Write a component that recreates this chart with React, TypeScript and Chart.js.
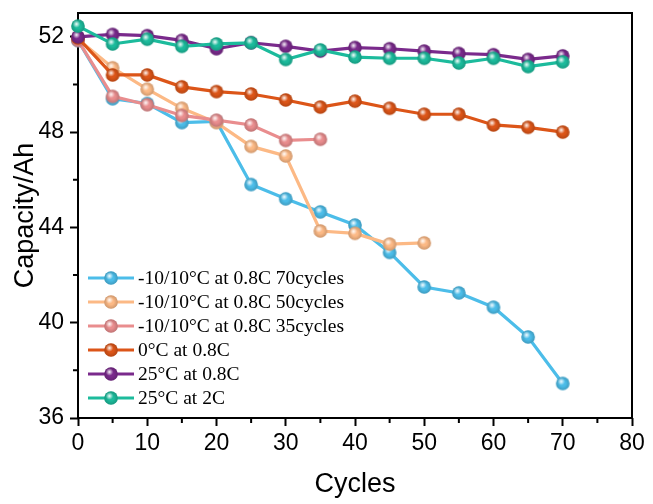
import { useEffect, useRef } from "react";
import { Chart, registerables } from "chart.js";

Chart.register(...registerables);

const cycles70 = [0, 5, 10, 15, 20, 25, 30, 35, 40, 45, 50, 55, 60, 65, 70];
const cycles50 = [0, 5, 10, 15, 20, 25, 30, 35, 40, 45, 50];
const cycles35 = [0, 5, 10, 15, 20, 25, 30, 35];

const low70 = [51.85, 49.4, 49.2, 48.4, 48.45, 45.8, 45.2, 44.65, 44.1, 42.95, 41.5, 41.25, 40.65, 39.4, 37.45];
const low50 = [51.9, 50.7, 49.8, 49.0, 48.4, 47.4, 47.0, 43.85, 43.75, 43.3, 43.35];
const low35 = [51.85, 49.5, 49.15, 48.7, 48.5, 48.3, 47.65, 47.7];
const zeroC = [51.95, 50.4, 50.4, 49.9, 49.7, 49.6, 49.35, 49.05, 49.3, 49.0, 48.75, 48.75, 48.3, 48.2, 48.0];
const room08 = [52.0, 52.1, 52.05, 51.85, 51.5, 51.75, 51.6, 51.4, 51.55, 51.5, 51.4, 51.3, 51.25, 51.05, 51.2];
const room2 = [52.45, 51.7, 51.9, 51.6, 51.7, 51.75, 51.05, 51.45, 51.15, 51.1, 51.1, 50.9, 51.1, 50.75, 50.95];

const seriesNames = [
  "-10/10°C at 0.8C 70cycles",
  "-10/10°C at 0.8C 50cycles",
  "-10/10°C at 0.8C 35cycles",
  "0°C at 0.8C",
  "25°C at 0.8C",
  "25°C at 2C",
];
const seriesColors = ["#4cbde9", "#fcb985", "#e98d8e", "#dc5518", "#7a2a8c", "#1cbb9c"];
const seriesX = [cycles70, cycles50, cycles35, cycles70, cycles70, cycles70];
const seriesY = [low70, low50, low35, zeroC, room08, room2];

const xMinorTicks = [5, 15, 25, 35, 45, 55, 65, 75];
const yMinorTicks = [38, 42, 46, 50];

// shaded ball marker like the Origin "sphere" symbol
function makeBall(color: string, r = 6.8) {
  const size = Math.ceil(r * 2 + 2);
  const c = document.createElement("canvas");
  c.width = size;
  c.height = size;
  const g = c.getContext("2d")!;
  const cx = size / 2;
  const cy = size / 2;
  g.beginPath();
  g.arc(cx, cy, r, 0, Math.PI * 2);
  g.fillStyle = color;
  g.fill();
  const shade = g.createRadialGradient(cx, cy, r * 0.4, cx, cy, r);
  shade.addColorStop(0, "rgba(0,0,0,0)");
  shade.addColorStop(1, "rgba(0,0,0,0.18)");
  g.fillStyle = shade;
  g.fill();
  const hi = g.createRadialGradient(cx - 1.5, cy - 2, 0, cx - 1.5, cy - 2, r * 0.55);
  hi.addColorStop(0, "rgba(255,255,255,0.95)");
  hi.addColorStop(1, "rgba(255,255,255,0)");
  g.fillStyle = hi;
  g.fill();
  return c;
}

const framePlugin = {
  id: "frame",
  beforeDatasetsDraw(chart: any) {
    const { ctx, chartArea: a, scales } = chart;
    ctx.save();
    ctx.strokeStyle = "#000";
    ctx.lineWidth = 2;
    ctx.strokeRect(a.left, a.top, a.right - a.left, a.bottom - a.top);
    ctx.beginPath();
    for (const v of xMinorTicks) {
      const px = scales.x.getPixelForValue(v);
      ctx.moveTo(px, a.bottom);
      ctx.lineTo(px, a.bottom + 5);
    }
    for (const v of yMinorTicks) {
      const py = scales.y.getPixelForValue(v);
      ctx.moveTo(a.left, py);
      ctx.lineTo(a.left - 5, py);
    }
    ctx.stroke();
    ctx.restore();
  },
  afterDatasetsDraw(chart: any) {
    const { ctx, chartArea: a } = chart;
    const sets = chart.data.datasets;
    ctx.save();
    ctx.font = "19.5px 'Liberation Serif', 'Times New Roman', serif";
    ctx.textBaseline = "middle";
    ctx.textAlign = "left";
    sets.forEach((ds: any, i: number) => {
      const y = a.bottom - 20 - (sets.length - 1 - i) * 24;
      const x0 = a.left + 10;
      ctx.strokeStyle = ds.borderColor;
      ctx.lineWidth = 3;
      ctx.beginPath();
      ctx.moveTo(x0, y);
      ctx.lineTo(x0 + 46, y);
      ctx.stroke();
      const img = ds.pointStyle as HTMLCanvasElement;
      ctx.drawImage(img, x0 + 23 - img.width / 2, y - img.height / 2);
      ctx.fillStyle = "#000";
      ctx.fillText(ds.label, x0 + 50, y + 1);
    });
    ctx.restore();
  },
};

export default function App() {
  const canvasRef = useRef<HTMLCanvasElement>(null);
  const chartRef = useRef<Chart | null>(null);

  useEffect(() => {
    document.body.style.margin = "0";
    if (!canvasRef.current) return;
    if (chartRef.current) chartRef.current.destroy();

    const datasets = seriesNames.map((name, i) => ({
      label: name,
      data: seriesX[i].map((x, j) => ({ x, y: seriesY[i][j] })),
      borderColor: seriesColors[i],
      backgroundColor: seriesColors[i],
      borderWidth: 3.2,
      pointStyle: makeBall(seriesColors[i]),
      pointRadius: 6,
      tension: 0,
      clip: false as const,
      order: seriesNames.length - i,
    }));

    const tickFont = { family: "'Liberation Sans', Arial, sans-serif", size: 23 };
    const titleFont = { family: "'Liberation Sans', Arial, sans-serif", size: 27 };

    chartRef.current = new Chart(canvasRef.current, {
      type: "line",
      data: { datasets },
      options: {
        responsive: false,
        animation: false,
        layout: { padding: { top: 13, right: 21, left: 0, bottom: 0 } },
        plugins: { legend: { display: false }, tooltip: { enabled: false } },
        scales: {
          x: {
            type: "linear",
            min: 0,
            max: 80,
            afterFit: (s: any) => {
              s.height = 86;
              s.paddingRight = 0;
              s.paddingLeft = 0;
            },
            ticks: { stepSize: 10, color: "#000", font: tickFont, padding: 4, maxRotation: 0 },
            grid: { drawOnChartArea: false, drawTicks: true, tickLength: 8, tickWidth: 2, tickColor: "#000" },
            border: { display: false },
            title: { display: true, text: "Cycles", color: "#000", font: titleFont, padding: { top: 0, bottom: 3 } },
          },
          y: {
            min: 36,
            max: 53,
            afterFit: (s: any) => {
              s.width = 78;
              s.paddingTop = 0;
              s.paddingBottom = 0;
            },
            ticks: { stepSize: 4, includeBounds: false, color: "#000", font: tickFont, padding: 6 },
            grid: { drawOnChartArea: false, drawTicks: true, tickLength: 8, tickWidth: 2, tickColor: "#000" },
            border: { display: false },
            title: { display: true, text: "Capacity/Ah", color: "#000", font: titleFont, padding: { top: 9, bottom: 0 } },
          },
        },
      },
      plugins: [framePlugin],
    });

    return () => {
      if (chartRef.current) {
        chartRef.current.destroy();
        chartRef.current = null;
      }
    };
  }, []);

  return (
    <div style={{ width: 653, height: 504 }}>
      <canvas ref={canvasRef} width={653} height={504} />
    </div>
  );
}
